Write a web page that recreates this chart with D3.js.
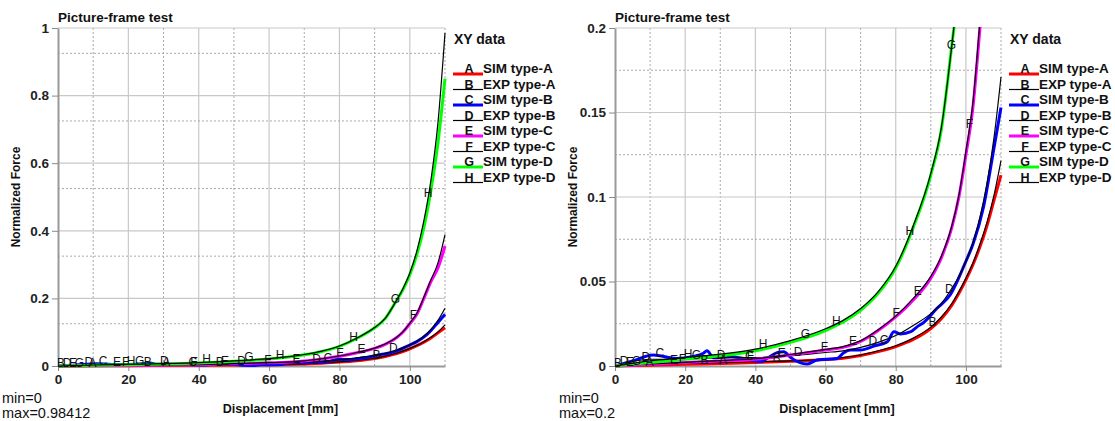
<!DOCTYPE html>
<html>
<head>
<meta charset="utf-8">
<script src="https://cdn.jsdelivr.net/npm/d3@7"></script>
<style>
  body { margin: 0; background: #fff; }
  svg { font-family: "Liberation Sans", Arial, sans-serif; }
</style>
</head>
<body>
<script>
// shared x grid for smooth curves (mm)
const xs = [0, 10, 20, 30, 40, 50, 60, 65, 70, 75, 80, 85, 90, 93, 96, 98, 100, 102, 104, 106, 108, 110];

const simA = [0, 0.0005, 0.001, 0.0015, 0.002, 0.0028, 0.0038, 0.0046, 0.0062, 0.0085, 0.0115, 0.0157, 0.0222, 0.028, 0.036, 0.043, 0.051, 0.06, 0.0705, 0.083, 0.098, 0.113];
const expA = [0, 0.001, 0.0015, 0.002, 0.0025, 0.003, 0.004, 0.005, 0.0065, 0.009, 0.012, 0.0165, 0.023, 0.029, 0.037, 0.044, 0.052, 0.061, 0.072, 0.085, 0.101, 0.1215];
const expB = [0, 0.004, 0.004, 0.005, 0.005, 0.006, 0.008, 0.009, 0.011, 0.014, 0.018, 0.024, 0.031, 0.037, 0.046, 0.053, 0.062, 0.073, 0.088, 0.108, 0.135, 0.171];
const simC = [0, 0.001, 0.002, 0.003, 0.004, 0.0065, 0.0095, 0.011, 0.0145, 0.021, 0.029, 0.039, 0.052, 0.064, 0.082, 0.1, 0.125, 0.153, 0.2, 0.25, 0.29, 0.355];
const expC = [0, 0.0012, 0.0022, 0.0032, 0.0043, 0.0068, 0.0098, 0.0115, 0.015, 0.0215, 0.0295, 0.04, 0.053, 0.065, 0.083, 0.101, 0.127, 0.156, 0.204, 0.255, 0.305, 0.389];
const simD = [0, 0.002, 0.004, 0.006, 0.009, 0.014, 0.021, 0.026, 0.033, 0.043, 0.058, 0.082, 0.113, 0.14, 0.19, 0.225, 0.27, 0.33, 0.41, 0.52, 0.66, 0.85];
const expD = [0, 0.003, 0.005, 0.007, 0.01, 0.015, 0.022, 0.027, 0.034, 0.044, 0.059, 0.083, 0.114, 0.141, 0.19, 0.228, 0.275, 0.34, 0.43, 0.55, 0.72, 0.985];

// SIM type-B is noisy, own x grid
const xsB = [0, 5, 10.9, 17.6, 22, 25.2, 26.2, 28.1, 33, 36.7, 41.4, 43.3, 46.2, 48.1, 50, 54.8, 57.6, 63.3, 65.2, 67.1, 70, 73.8, 77.6, 79.5, 81.4, 84.3, 86, 88.1, 91.7, 95.5, 100, 102, 105, 108, 110];
const simB = [0, 0.003, 0.0065, 0.0045, 0.0055, 0.0075, 0.009, 0.0049, 0.0055, 0.0045, 0.0026, 0.0045, 0.0079, 0.0085, 0.0051, 0.0012, 0.0036, 0.0045, 0.0079, 0.0095, 0.0095, 0.0118, 0.0144, 0.0203, 0.019, 0.0203, 0.023, 0.026, 0.034, 0.042, 0.062, 0.072, 0.094, 0.129, 0.153];

// letter marker positions (x in mm)
const labA = [9.8, 30.8];
const labB = [0.8, 25.5, 46, 90.5];
const labC = [12.8, 38.3, 76.7];
const labD = [2.6, 8.8, 30.2, 52.2, 73.5, 95.3];
const labE = [4.3, 16.8, 47.5, 67.8, 86.3];
const labF = [19.2, 38.6, 59.7, 80.1, 101];
const labG = [6.1, 23.2, 54.3, 95.9];
const labH = [20.8, 42.2, 63.1, 84, 105.2];

const legendNames = ["SIM type-A", "EXP type-A", "SIM type-B", "EXP type-B", "SIM type-C", "EXP type-C", "SIM type-D", "EXP type-D"];
const letters = ["A", "B", "C", "D", "E", "F", "G", "H"];
const colors = ["#ff0000", "#000", "#0000ff", "#000", "#ff00ff", "#000", "#00ff00", "#000"];
const widths = [3, 1.2, 3, 1.2, 3, 1.2, 3, 1.2];

const series = [
  {x: xs, y: simA, lab: labA}, {x: xs, y: expA, lab: labB},
  {x: xsB, y: simB, lab: labC}, {x: xs, y: expB, lab: labD},
  {x: xs, y: simC, lab: labE}, {x: xs, y: expC, lab: labF},
  {x: xs, y: simD, lab: labG}, {x: xs, y: expD, lab: labH}
];

const svg = d3.select("body").append("svg")
  .attr("width", 1115).attr("height", 421);

function interp(xa, ya, v) {
  let i = d3.bisectRight(xa, v);
  if (i <= 0) return ya[0];
  if (i >= xa.length) return ya[ya.length - 1];
  let t = (v - xa[i - 1]) / (xa[i] - xa[i - 1]);
  return ya[i - 1] + t * (ya[i] - ya[i - 1]);
}

function panel(cfg) {
  let g = svg.append("g");
  let x = d3.scaleLinear().domain([0, 110]).range([cfg.left, cfg.right]);
  let y = d3.scaleLinear().domain([0, cfg.ymax]).range([366, 28]);

  // grid
  let xMaj = d3.range(0, 101, 20), xMin = d3.range(10, 111, 20);
  let yMaj = cfg.yTicks, yMin = yMaj.slice(0, -1).map(d => d + cfg.ymax / 8);
  g.selectAll(".gx").data(xMaj.slice(1)).enter().append("line")
    .attr("x1", d => x(d)).attr("x2", d => x(d)).attr("y1", y(0)).attr("y2", y(cfg.ymax))
    .attr("stroke", "#c8c8c8").attr("stroke-width", 1.2);
  g.selectAll(".gxm").data(xMin).enter().append("line")
    .attr("x1", d => x(d)).attr("x2", d => x(d)).attr("y1", y(0)).attr("y2", y(cfg.ymax))
    .attr("stroke", "#aaa").attr("stroke-dasharray", "2,2");
  g.selectAll(".gy").data(yMaj.slice(1)).enter().append("line")
    .attr("x1", x(0)).attr("x2", x(110)).attr("y1", d => y(d)).attr("y2", d => y(d))
    .attr("stroke", "#c8c8c8").attr("stroke-width", 1.2);
  g.selectAll(".gym").data(yMin).enter().append("line")
    .attr("x1", x(0)).attr("x2", x(110)).attr("y1", d => y(d)).attr("y2", d => y(d))
    .attr("stroke", "#aaa").attr("stroke-dasharray", "2,2");

  // axes
  let ax = g.append("g").attr("transform", `translate(0,${y(0)})`)
    .call(d3.axisBottom(x).tickValues(d3.range(0, 101, 20)).tickSize(5).tickSizeOuter(0).tickFormat(d3.format("d")));
  let ay = g.append("g").attr("transform", `translate(${x(0)},0)`)
    .call(d3.axisLeft(y).tickValues(yMaj).tickSize(6).tickSizeOuter(0).tickFormat(d => String(+d.toFixed(3))));
  [ax, ay].forEach(a => {
    a.select(".domain").attr("stroke", "#999").attr("stroke-width", 2);
    a.selectAll(".tick line").attr("stroke", "#888");
    a.selectAll("text").attr("fill", "#222").style("font-size", "13.5px").style("font-weight", "bold")
      .style("font-family", "'Liberation Sans', Arial, sans-serif");
  });

  // curves
  let clipId = "clip" + cfg.left;
  svg.append("clipPath").attr("id", clipId).append("rect")
    .attr("x", x(0)).attr("y", y(cfg.ymax) - 1).attr("width", x(110) - x(0) + 2).attr("height", y(0) - y(cfg.ymax) + 3);
  let cg = g.append("g").attr("clip-path", `url(#${clipId})`);
  let line = d3.line().curve(d3.curveMonotoneX);
  series.forEach((s, i) => {
    cg.append("path")
      .attr("d", line(s.x.map((v, k) => [x(v), y(s.y[k])])))
      .attr("fill", "none").attr("stroke", colors[i]).attr("stroke-width", widths[i]);
  });
  series.forEach((s, i) => {
    cg.selectAll(null).data(s.lab.filter(v => interp(s.x, s.y, v) < cfg.ymax * 0.95)).enter().append("text")
      .attr("x", d => x(d)).attr("y", d => y(interp(s.x, s.y, d)) + 1)
      .attr("text-anchor", "middle").attr("font-size", 12).attr("fill", "#111")
      .text(letters[i]);
  });

  // texts
  g.append("text").attr("x", cfg.left).attr("y", 22)
    .attr("font-size", 13.5).attr("font-weight", "bold").attr("fill", "#111").text("Picture-frame test");
  g.append("text").attr("transform", `translate(${cfg.left - 38},${y(cfg.ymax / 2)}) rotate(-90)`)
    .attr("text-anchor", "middle").attr("font-size", 12).attr("font-weight", "bold").attr("fill", "#111")
    .text("Normalized Force");
  g.append("text").attr("x", (x(0) + x(110)) / 2 + 29).attr("y", 413)
    .attr("text-anchor", "middle").attr("font-size", 12.5).attr("font-weight", "bold").attr("fill", "#111")
    .text("Displacement [mm]");
  g.append("text").attr("x", cfg.left - 56).attr("y", 403).attr("font-size", 14.5).attr("fill", "#111").text("min=0");
  g.append("text").attr("x", cfg.left - 56).attr("y", 418).attr("font-size", 14.5).attr("fill", "#111").text("max=" + cfg.maxText);

  // legend
  let lx = x(110) + 9;
  g.append("text").attr("x", lx).attr("y", 44).attr("font-size", 14).attr("font-weight", "bold").attr("fill", "#111").text("XY data");
  let lg = g.selectAll(".leg").data(legendNames).enter().append("g")
    .attr("transform", (d, i) => `translate(${lx},${74 + i * 15.5})`);
  lg.append("line").attr("x1", -1).attr("x2", 29).attr("y1", 0).attr("y2", 0)
    .attr("stroke", (d, i) => colors[i]).attr("stroke-width", (d, i) => widths[i] > 2 ? 3 : 1.2);
  lg.append("text").attr("x", 15).attr("y", -1).attr("text-anchor", "middle").attr("font-size", 12.5)
    .attr("font-weight", "bold").attr("fill", "#111")
    .text((d, i) => letters[i]);
  lg.append("text").attr("x", 29).attr("y", -1).attr("font-size", 13.5).attr("font-weight", "bold").attr("fill", "#111")
    .text(d => d);
}

panel({left: 58, right: 445, ymax: 1, yTicks: [0, 0.2, 0.4, 0.6, 0.8, 1], maxText: "0.98412"});
panel({left: 615, right: 1001, ymax: 0.2, yTicks: [0, 0.05, 0.1, 0.15, 0.2], maxText: "0.2"});
</script>
</body>
</html>
